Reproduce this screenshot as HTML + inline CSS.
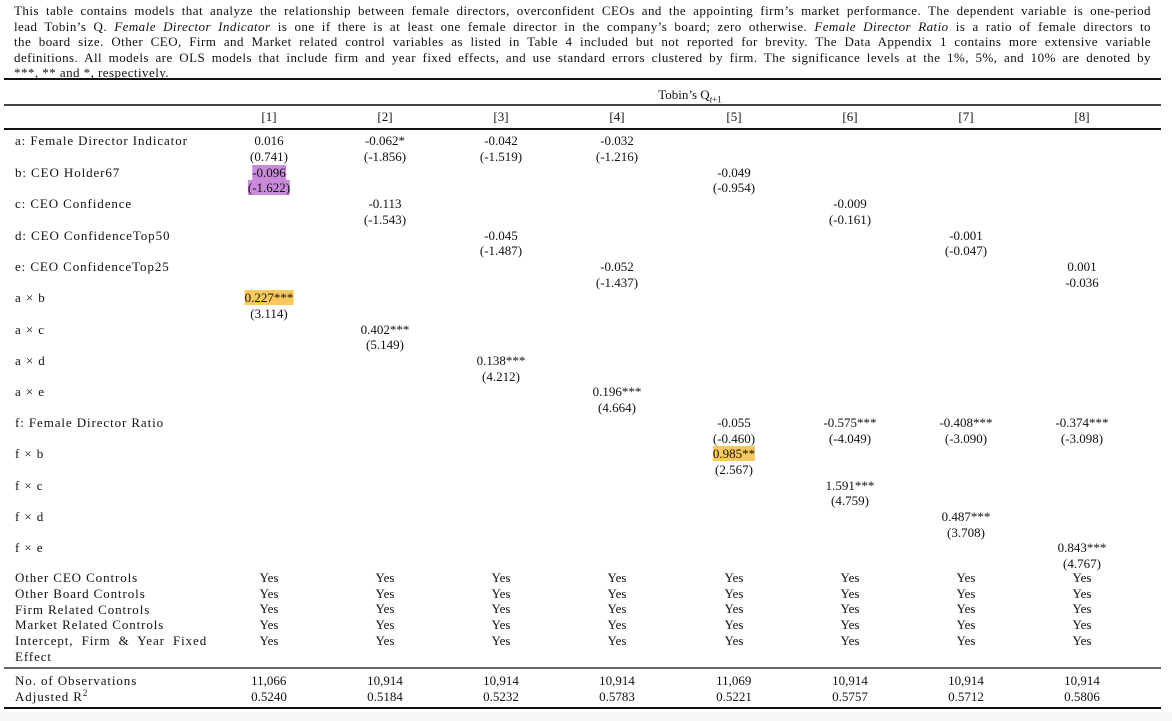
<!DOCTYPE html>
<html><head><meta charset="utf-8"><style>
body{margin:0;background:#fff;}
#w{position:relative;width:1172px;height:721px;overflow:hidden;font-family:"Liberation Serif",serif;font-size:13px;color:#111;background:#fff;}
.p{position:absolute;left:14px;width:1137px;top:3px;line-height:15.6px;letter-spacing:0.45px;}
.p div{text-align:justify;text-align-last:justify;}
.p div.last{text-align-last:left;}
.c{position:absolute;transform:translateX(-50%);line-height:16px;white-space:nowrap;}
.l{position:absolute;left:15px;line-height:16px;white-space:nowrap;letter-spacing:0.9px;}
.r{position:absolute;background:#111;}
.hp{background:#c98ad9;}
.ho{background:#f9c95e;}
sup{font-size:9px;line-height:0;vertical-align:5px;}
</style></head><body><div id="w">
<div class="p">
<div>This table contains models that analyze the relationship between female directors, overconfident CEOs and the appointing firm’s market performance. The dependent variable is one-period</div>
<div>lead Tobin’s Q. <i>Female Director Indicator</i> is one if there is at least one female director in the company’s board; zero otherwise. <i>Female Director Ratio</i> is a ratio of female directors to</div>
<div>the board size. Other CEO, Firm and Market related control variables as listed in Table 4 included but not reported for brevity. The Data Appendix 1 contains more extensive variable</div>
<div>definitions. All models are OLS models that include firm and year fixed effects, and use standard errors clustered by firm. The significance levels at the 1%, 5%, and 10% are denoted by</div>
<div class="last">***, ** and *, respectively.</div>
</div>
<div class="r" style="left:4px;width:1157px;top:78px;height:2px;"></div>
<div class="r" style="left:4px;width:1157px;top:104px;height:1.5px;background:#444"></div>
<div class="r" style="left:4px;width:1157px;top:128px;height:1.5px;"></div>
<div class="r" style="left:4px;width:1157px;top:667px;height:2px;background:#666"></div>
<div class="r" style="left:4px;width:1157px;top:707px;height:2px;"></div>
<div style="position:absolute;left:0;top:712px;width:1172px;height:9px;background:#f6f6f6"></div>
<div class="c" style="left:690px;top:87px">Tobin’s Q<sub style="font-size:9px;font-style:italic;line-height:0">t</sub><sub style="font-size:9px;line-height:0">+1</sub></div>

<div class="c" style="left:269px;top:109px">[1]</div><div class="c" style="left:385px;top:109px">[2]</div><div class="c" style="left:501px;top:109px">[3]</div><div class="c" style="left:617px;top:109px">[4]</div><div class="c" style="left:734px;top:109px">[5]</div><div class="c" style="left:850px;top:109px">[6]</div><div class="c" style="left:966px;top:109px">[7]</div><div class="c" style="left:1082px;top:109px">[8]</div>

<div class="l" style="top:133px">a: Female Director Indicator</div>
<div class="l" style="top:165px">b: CEO Holder67</div>
<div class="l" style="top:196px">c: CEO Confidence</div>
<div class="l" style="top:228px">d: CEO ConfidenceTop50</div>
<div class="l" style="top:259px">e: CEO ConfidenceTop25</div>
<div class="l" style="top:290px">a × b</div>
<div class="l" style="top:322px">a × c</div>
<div class="l" style="top:353px">a × d</div>
<div class="l" style="top:384px">a × e</div>
<div class="l" style="top:415px">f: Female Director Ratio</div>
<div class="l" style="top:446px">f × b</div>
<div class="l" style="top:478px">f × c</div>
<div class="l" style="top:509px">f × d</div>
<div class="l" style="top:540px">f × e</div>
<div class="l" style="top:570px">Other CEO Controls</div>
<div class="l" style="top:586px">Other Board Controls</div>
<div class="l" style="top:602px">Firm Related Controls</div>
<div class="l" style="top:617px">Market Related Controls</div>
<div class="l" style="top:633px;word-spacing:4px">Intercept, Firm &amp; Year Fixed</div>
<div class="l" style="top:649px">Effect</div>
<div class="l" style="top:673px">No. of Observations</div>
<div class="l" style="top:689px">Adjusted R<sup>2</sup></div>

<div class="c" style="left:269px;top:133px">0.016</div><div class="c" style="left:269px;top:149px">(0.741)</div>
<div class="c" style="left:269px;top:165px"><span class="hp">-0.096</span></div><div class="c" style="left:269px;top:180px"><span class="hp">(-1.622)</span></div>
<div class="c" style="left:269px;top:290px"><span class="ho">0.227***</span></div><div class="c" style="left:269px;top:306px">(3.114)</div>

<div class="c" style="left:385px;top:133px">-0.062*</div><div class="c" style="left:385px;top:149px">(-1.856)</div>
<div class="c" style="left:385px;top:196px">-0.113</div><div class="c" style="left:385px;top:212px">(-1.543)</div>
<div class="c" style="left:385px;top:322px">0.402***</div><div class="c" style="left:385px;top:337px">(5.149)</div>

<div class="c" style="left:501px;top:133px">-0.042</div><div class="c" style="left:501px;top:149px">(-1.519)</div>
<div class="c" style="left:501px;top:228px">-0.045</div><div class="c" style="left:501px;top:243px">(-1.487)</div>
<div class="c" style="left:501px;top:353px">0.138***</div><div class="c" style="left:501px;top:369px">(4.212)</div>

<div class="c" style="left:617px;top:133px">-0.032</div><div class="c" style="left:617px;top:149px">(-1.216)</div>
<div class="c" style="left:617px;top:259px">-0.052</div><div class="c" style="left:617px;top:275px">(-1.437)</div>
<div class="c" style="left:617px;top:384px">0.196***</div><div class="c" style="left:617px;top:400px">(4.664)</div>

<div class="c" style="left:734px;top:165px">-0.049</div><div class="c" style="left:734px;top:180px">(-0.954)</div>
<div class="c" style="left:734px;top:415px">-0.055</div><div class="c" style="left:734px;top:431px">(-0.460)</div>
<div class="c" style="left:734px;top:446px"><span class="ho">0.985**</span></div><div class="c" style="left:734px;top:462px">(2.567)</div>

<div class="c" style="left:850px;top:196px">-0.009</div><div class="c" style="left:850px;top:212px">(-0.161)</div>
<div class="c" style="left:850px;top:415px">-0.575***</div><div class="c" style="left:850px;top:431px">(-4.049)</div>
<div class="c" style="left:850px;top:478px">1.591***</div><div class="c" style="left:850px;top:493px">(4.759)</div>

<div class="c" style="left:966px;top:228px">-0.001</div><div class="c" style="left:966px;top:243px">(-0.047)</div>
<div class="c" style="left:966px;top:415px">-0.408***</div><div class="c" style="left:966px;top:431px">(-3.090)</div>
<div class="c" style="left:966px;top:509px">0.487***</div><div class="c" style="left:966px;top:525px">(3.708)</div>

<div class="c" style="left:1082px;top:259px">0.001</div><div class="c" style="left:1082px;top:275px">-0.036</div>
<div class="c" style="left:1082px;top:415px">-0.374***</div><div class="c" style="left:1082px;top:431px">(-3.098)</div>
<div class="c" style="left:1082px;top:540px">0.843***</div><div class="c" style="left:1082px;top:556px">(4.767)</div>

<div class="c" style="left:269px;top:570px;line-height:15.7px">Yes<br>Yes<br>Yes<br>Yes<br>Yes</div>
<div class="c" style="left:385px;top:570px;line-height:15.7px">Yes<br>Yes<br>Yes<br>Yes<br>Yes</div>
<div class="c" style="left:501px;top:570px;line-height:15.7px">Yes<br>Yes<br>Yes<br>Yes<br>Yes</div>
<div class="c" style="left:617px;top:570px;line-height:15.7px">Yes<br>Yes<br>Yes<br>Yes<br>Yes</div>
<div class="c" style="left:734px;top:570px;line-height:15.7px">Yes<br>Yes<br>Yes<br>Yes<br>Yes</div>
<div class="c" style="left:850px;top:570px;line-height:15.7px">Yes<br>Yes<br>Yes<br>Yes<br>Yes</div>
<div class="c" style="left:966px;top:570px;line-height:15.7px">Yes<br>Yes<br>Yes<br>Yes<br>Yes</div>
<div class="c" style="left:1082px;top:570px;line-height:15.7px">Yes<br>Yes<br>Yes<br>Yes<br>Yes</div>

<div class="c" style="left:269px;top:673px">11,066<br>0.5240</div>
<div class="c" style="left:385px;top:673px">10,914<br>0.5184</div>
<div class="c" style="left:501px;top:673px">10,914<br>0.5232</div>
<div class="c" style="left:617px;top:673px">10,914<br>0.5783</div>
<div class="c" style="left:734px;top:673px">11,069<br>0.5221</div>
<div class="c" style="left:850px;top:673px">10,914<br>0.5757</div>
<div class="c" style="left:966px;top:673px">10,914<br>0.5712</div>
<div class="c" style="left:1082px;top:673px">10,914<br>0.5806</div>
</div></body></html>
